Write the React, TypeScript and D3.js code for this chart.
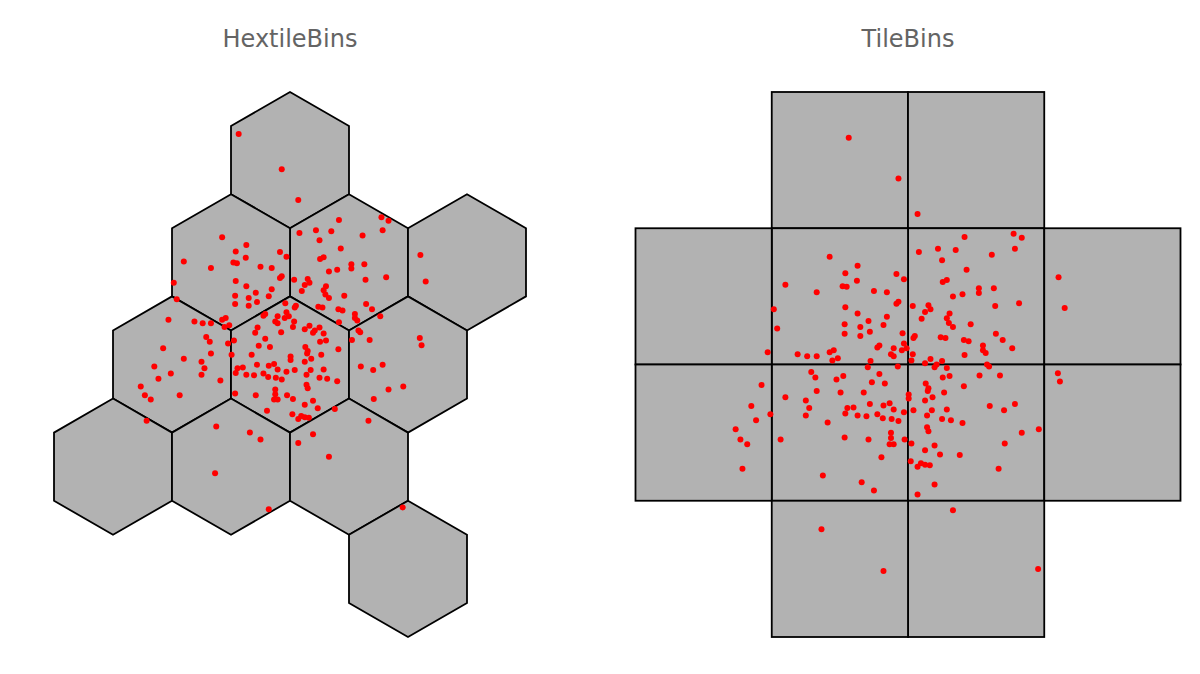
import React from 'react';
import * as d3 from 'd3';

const panelTitles = ['HextileBins', 'TileBins'];

// sample positions, data units (bin width 2)
const xs = [
  -0.87, -0.14, 0.14, 1.55, 1.67, 0.83, 0.70, 1.57, 1.23, 0.86,
  0.57, 2.21, 1.04, 1.04, 1.26, 0.66, 0.80, 1.63, 1.28, 2.30,
  0.61, 0.57, 0.16, 0.44, 0.50, -0.74, -0.92, -0.17, -0.06, -0.75,
  -0.96, -0.90, 0.51, -0.50, -0.31, -0.17, -0.14, 0.07, 0.30, 0.33,
  0.25, -0.92, -0.74, -0.31, -0.58, 0.20, -1.15, -1.80, -1.34, -1.97,
  -1.92, -0.93, -0.93, -2.06, -1.62, -1.48, -1.34, -1.15, -1.09, -1.03,
  -1.11, -1.42, -1.36, -0.95, -1.05, -2.15, -1.34, -0.99, -1.80, -1.50,
  -1.45, -2.30, -0.70, -0.36, -0.70, -0.56, 0.60, 0.66, -0.08, 0.10,
  0.08, 0.48, 0.55, -0.45, -0.42, -0.21, -0.06, -0.02, -0.09, -0.25,
  -0.21, 0.07, 0.05, -0.55, -0.59, -0.15, 0.25, 0.33, 0.39, 0.42,
  0.50, 0.57, 0.61, 0.51, -0.42, -0.53, -0.34, 0.26, 0.30, 0.29,
  -0.65, 0.01, 0.01, 0.53, 0.25, 0.36, -0.56, -0.36, -0.27, -0.89,
  -0.80, -0.21, 0.08, 0.35, 0.57, 0.92, 0.82, 0.89, 1.29, 1.39,
  1.10, 1.10, 1.14, 1.53, 0.83, 1.16, 1.19, 1.05, 1.35, 0.82,
  2.20, 2.23, 1.20, 1.41, 1.57, -2.02, -2.23, -2.53, -2.46, -2.36,
  -2.43, -1.87, -1.50, -1.18, -0.92, -0.93, -1.25, -0.74, -0.61, -0.45,
  -0.37, -0.24, -0.14, -0.06, 0.28, 0.50, 0.63, 0.28, 0.30, -0.58,
  -0.25, -0.25, -0.27, -0.21, -0.05, 0.05, 0.39, 0.25, 0.47, -0.39,
  0.04, 0.19, 0.25, 0.32, 0.14, -0.68, -0.50, 0.39, 0.14, 0.80,
  1.67, 1.92, 1.42, 0.76, 1.33, 0.66, -1.27, -0.36, 1.91,
];
const ys = [
  3.33, 2.73, 2.21, 1.92, 1.86, 1.87, 1.68, 1.70, 1.61, 1.39,
  1.24, 1.28, 1.12, 1.05, 1.12, 1.00, 1.03, 0.90, 0.86, 0.83,
  0.75, 0.68, 1.65, 1.70, 1.53, 1.45, 1.34, 1.33, 1.25, 1.23,
  1.15, 1.14, 1.21, 1.08, 1.06, 0.89, 0.92, 0.86, 0.87, 0.81,
  0.77, 0.84, 0.75, 0.70, 0.64, 0.67, 1.58, 1.17, 1.06, 0.81,
  0.53, 0.59, 0.45, 0.18, 0.15, 0.12, 0.12, 0.18, 0.21, 0.09,
  0.06, -0.11, -0.19, -0.17, -0.22, -0.30, -0.39, -0.41, -0.48, -0.53,
  -0.64, -0.61, 0.55, 0.58, 0.42, 0.48, 0.61, 0.55, 0.46, 0.42,
  0.39, 0.40, 0.39, 0.25, 0.28, 0.24, 0.31, 0.24, 0.21, 0.15,
  0.12, 0.15, 0.06, 0.05, -0.04, -0.03, 0.02, 0.08, -0.04, 0.00,
  0.05, -0.05, -0.17, -0.19, -0.14, -0.26, -0.28, -0.28, -0.35, -0.39,
  -0.41, -0.44, -0.50, -0.41, -0.53, -0.48, -0.58, -0.60, -0.57, -0.64,
  -0.63, -0.66, -0.67, -0.67, -0.66, 0.59, 0.36, 0.34, 0.45, 0.36,
  0.28, 0.21, 0.17, 0.24, 0.14, 0.00, -0.03, -0.16, -0.16, -0.32,
  -0.13, -0.25, -0.61, -0.67, -0.58, -0.73, -0.82, -0.95, -1.10, -1.17,
  -1.53, -1.10, -0.75, -0.85, -0.72, -1.07, -1.63, -0.75, -0.76, -0.73,
  -0.79, -0.80, -0.83, -0.70, -0.75, -0.80, -0.82, -0.92, -0.98, -1.10,
  -1.00, -1.08, -1.17, -1.17, -1.10, -1.16, -1.19, -1.26, -1.32, -1.36,
  -1.42, -1.45, -1.47, -1.48, -1.50, -1.73, -1.85, -1.76, -1.91, -0.86,
  -1.00, -0.95, -1.16, -1.33, -1.53, -2.14, -2.42, -3.03, -3.00,
];

const binWidth = 2; // hex width and tile side
const hexR = binWidth / Math.sqrt(3);
const hexOrigin = [0, -hexR / 2];

const W = 1200;
const H = 674;
const panelCenters = [290, 908];
const panelTop = 92;
const panelHeight = 545;
const panelWidth = 590;

// nearest hex centre for a point
function hexCenter(x: number, y: number): [number, number] {
  const dy = hexR * 1.5;
  const r0 = Math.round((y - hexOrigin[1]) / dy);
  let best: [number, number] = [0, 0];
  let bd = Infinity;
  for (let r = r0 - 1; r <= r0 + 1; r++) {
    const off = (((r % 2) + 2) % 2) === 1 ? binWidth / 2 : 0;
    const cy = hexOrigin[1] + r * dy;
    const c = Math.round((x - hexOrigin[0] - off) / binWidth);
    const cx = hexOrigin[0] + off + c * binWidth;
    const d = (x - cx) ** 2 + (y - cy) ** 2;
    if (d < bd) {
      bd = d;
      best = [cx, cy];
    }
  }
  return best;
}

function uniqueBins(fn: (x: number, y: number) => [number, number]) {
  const m = new Map<string, [number, number]>();
  xs.forEach((x, i) => {
    const b = fn(x, ys[i]);
    m.set(`${b[0].toFixed(3)},${b[1].toFixed(3)}`, b);
  });
  return Array.from(m.values());
}

const hexBins = uniqueBins(hexCenter);
const tileBins = uniqueBins((x, y) => [
  Math.floor(x / binWidth) * binWidth,
  Math.floor(y / binWidth) * binWidth,
]);

function makeScales(extX: [number, number], extY: [number, number], cx: number) {
  const dx = extX[1] - extX[0];
  const dy = extY[1] - extY[0];
  const k = Math.min(panelWidth / dx, panelHeight / dy);
  const midY = panelTop + panelHeight / 2;
  const x = d3.scaleLinear().domain(extX).range([cx - (k * dx) / 2, cx + (k * dx) / 2]);
  const y = d3.scaleLinear().domain(extY).range([midY + (k * dy) / 2, midY - (k * dy) / 2]);
  return { x, y };
}

const HexPanel = () => {
  const extX: [number, number] = [
    d3.min(hexBins, (b) => b[0])! - binWidth / 2,
    d3.max(hexBins, (b) => b[0])! + binWidth / 2,
  ];
  const extY: [number, number] = [
    d3.min(hexBins, (b) => b[1])! - hexR,
    d3.max(hexBins, (b) => b[1])! + hexR,
  ];
  const { x, y } = makeScales(extX, extY, panelCenters[0]);
  const line = d3.line<[number, number]>().x((d) => x(d[0])).y((d) => y(d[1]));
  const hexPath = (b: [number, number]) => {
    const pts: [number, number][] = d3.range(6).map((i) => {
      const a = (Math.PI / 180) * (30 + 60 * i);
      return [b[0] + hexR * Math.cos(a), b[1] + hexR * Math.sin(a)];
    });
    return line(pts) + 'Z';
  };
  return (
    <g>
      {hexBins.map((b, i) => (
        <path key={i} d={hexPath(b)} fill="#b2b2b2" stroke="#000" strokeWidth={1.8} />
      ))}
      {xs.map((v, i) => (
        <circle key={i} cx={x(v)} cy={y(ys[i])} r={3} fill="#ff0000" />
      ))}
    </g>
  );
};

const TilePanel = () => {
  const extX: [number, number] = [
    d3.min(tileBins, (b) => b[0])!,
    d3.max(tileBins, (b) => b[0])! + binWidth,
  ];
  const extY: [number, number] = [
    d3.min(tileBins, (b) => b[1])!,
    d3.max(tileBins, (b) => b[1])! + binWidth,
  ];
  const { x, y } = makeScales(extX, extY, panelCenters[1]);
  return (
    <g>
      {tileBins.map((b, i) => (
        <rect
          key={i}
          x={x(b[0])}
          y={y(b[1] + binWidth)}
          width={x(b[0] + binWidth) - x(b[0])}
          height={y(b[1]) - y(b[1] + binWidth)}
          fill="#b2b2b2"
          stroke="#000"
          strokeWidth={1.8}
        />
      ))}
      {xs.map((v, i) => (
        <circle key={i} cx={x(v)} cy={y(ys[i])} r={3} fill="#ff0000" />
      ))}
    </g>
  );
};

export default function App() {
  return (
    <svg
      width={W}
      height={H}
      style={{ position: 'absolute', left: 0, top: 0, background: '#fff' }}
      fontFamily="DejaVu Sans"
    >
      {panelTitles.map((t, i) => (
        <text key={t} x={panelCenters[i]} y={47} textAnchor="middle" fontSize={24} fill="#646464">
          {t}
        </text>
      ))}
      <HexPanel />
      <TilePanel />
    </svg>
  );
}
